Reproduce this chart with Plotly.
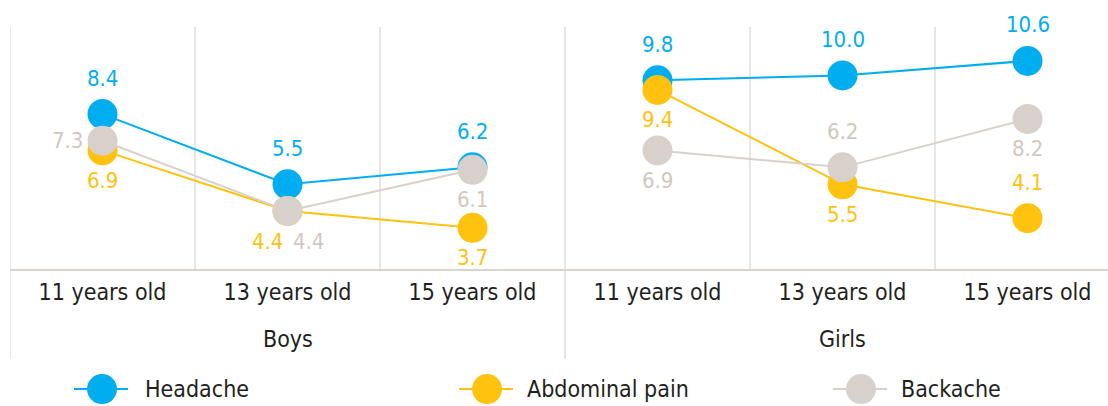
import plotly.graph_objects as go

# data
categories = ["11 years old", "13 years old", "15 years old"]
groups = ["Boys", "Girls"]
series_names = ["Headache", "Abdominal pain", "Backache"]

headache_boys = [8.4, 5.5, 6.2]
headache_girls = [9.8, 10.0, 10.6]
abdominal_boys = [6.9, 4.4, 3.7]
abdominal_girls = [9.4, 5.5, 4.1]
backache_boys = [7.3, 4.4, 6.1]
backache_girls = [6.9, 6.2, 8.2]

# where each value label sits relative to its marker
headache_pos = ["above", "above", "above", "above", "above", "above"]
abdominal_pos = ["below", "below-left", "below", "below", "below", "above"]
backache_pos = ["left", "below-right", "below", "below", "above", "below"]

colors = ["#00AEEF", "#FFC20E", "#D8D1CB"]
label_colors = ["#00AEEF", "#FFC20E", "#CFC8C1"]
grid_color = "#DAD4CE"
text_color = "#231F20"
FONT = "Liberation Sans Narrow, DejaVu Sans Condensed, Roboto, sans-serif"

OFFSETS = {
    "above": (0, -36),
    "below": (0, 30),
    "left": (-35, 0),
    "below-left": (-20, 31),
    "below-right": (21, 31),
}

series = [
    (headache_boys + headache_girls, headache_pos),
    (abdominal_boys + abdominal_girls, abdominal_pos),
    (backache_boys + backache_girls, backache_pos),
]

n = len(categories)
xs = list(range(n * len(groups)))

fig = go.Figure()
annotations = []

for (vals, pos), name, col, lcol in zip(series, series_names, colors, label_colors):
    # break the line between the two groups
    x_line, y_line = [], []
    for g in range(len(groups)):
        x_line += xs[g * n:(g + 1) * n] + [None]
        y_line += vals[g * n:(g + 1) * n] + [None]
    fig.add_trace(go.Scatter(
        x=x_line, y=y_line, mode="lines+markers", name=name,
        line=dict(color=col, width=2),
        marker=dict(color=col, size=30, line=dict(width=0)),
        connectgaps=False, showlegend=False, hoverinfo="skip",
    ))
    for x, v, p in zip(xs, vals, pos):
        dx, dy = OFFSETS[p]
        annotations.append(dict(
            x=x, y=v, xref="x", yref="y", text=f"{v:.1f}", showarrow=False,
            xshift=dx, yshift=-dy, xanchor="center", yanchor="middle",
            font=dict(family=FONT, size=22, color=lcol),
        ))

# group labels
for g, name in enumerate(groups):
    annotations.append(dict(
        x=g * n + (n - 1) / 2, y=-0.29, xref="x", yref="paper", text=name,
        showarrow=False, yanchor="middle",
        font=dict(family=FONT, size=23, color=text_color),
    ))

shapes = []
# light vertical gridlines inside each group
for g in range(len(groups)):
    for k in range(1, n):
        xv = g * n + k - 0.5
        shapes.append(dict(type="line", xref="x", yref="paper", x0=xv, x1=xv,
                           y0=0, y1=1, line=dict(color=grid_color, width=1.2),
                           layer="below"))
    # group separators reaching down through the labels
    xv = g * n - 0.5
    shapes.append(dict(type="line", xref="x", yref="paper", x0=xv, x1=xv,
                       y0=-0.372, y1=1, line=dict(color=grid_color, width=1.2),
                       layer="below"))

# custom legend with big markers
W = 1098
legend_y = -0.496
legend_items = [(102, 143), (487, 525), (861, 899)]
for (cx, tx), name, col in zip(legend_items, series_names, colors):
    px = (cx - 10) / W
    shapes.append(dict(type="line", xref="paper", yref="paper",
                       x0=(cx - 28 - 10) / W, x1=(cx + 26 - 10) / W,
                       y0=legend_y, y1=legend_y, line=dict(color=col, width=2)))
    shapes.append(dict(type="circle", xref="paper", yref="paper",
                       xsizemode="pixel", ysizemode="pixel",
                       xanchor=px, yanchor=legend_y, x0=-15, x1=15, y0=-15, y1=15,
                       fillcolor=col, line=dict(width=0)))
    annotations.append(dict(
        x=(tx - 10) / W, y=legend_y, xref="paper", yref="paper", text=name,
        showarrow=False, xanchor="left", yanchor="middle",
        font=dict(family=FONT, size=23, color=text_color),
    ))

fig.update_layout(
    width=1108, height=406,
    margin=dict(l=10, r=0, t=27, b=137),
    paper_bgcolor="white", plot_bgcolor="white",
    showlegend=False,
    annotations=annotations,
    shapes=shapes,
    font=dict(family=FONT, color=text_color),
)
fig.update_xaxes(
    range=[-0.5, 5.435], tickvals=xs, ticktext=categories * len(groups),
    showgrid=False, zeroline=False, showline=True, linecolor=grid_color,
    linewidth=1.5, ticks="", ticklabelstandoff=2,
    tickfont=dict(family=FONT, size=23, color=text_color),
)
fig.update_yaxes(range=[2, 12], visible=False, showgrid=False, zeroline=False)

fig.write_html("out.html", config={"displayModeBar": False},
               post_script="document.body.style.margin='0';")
